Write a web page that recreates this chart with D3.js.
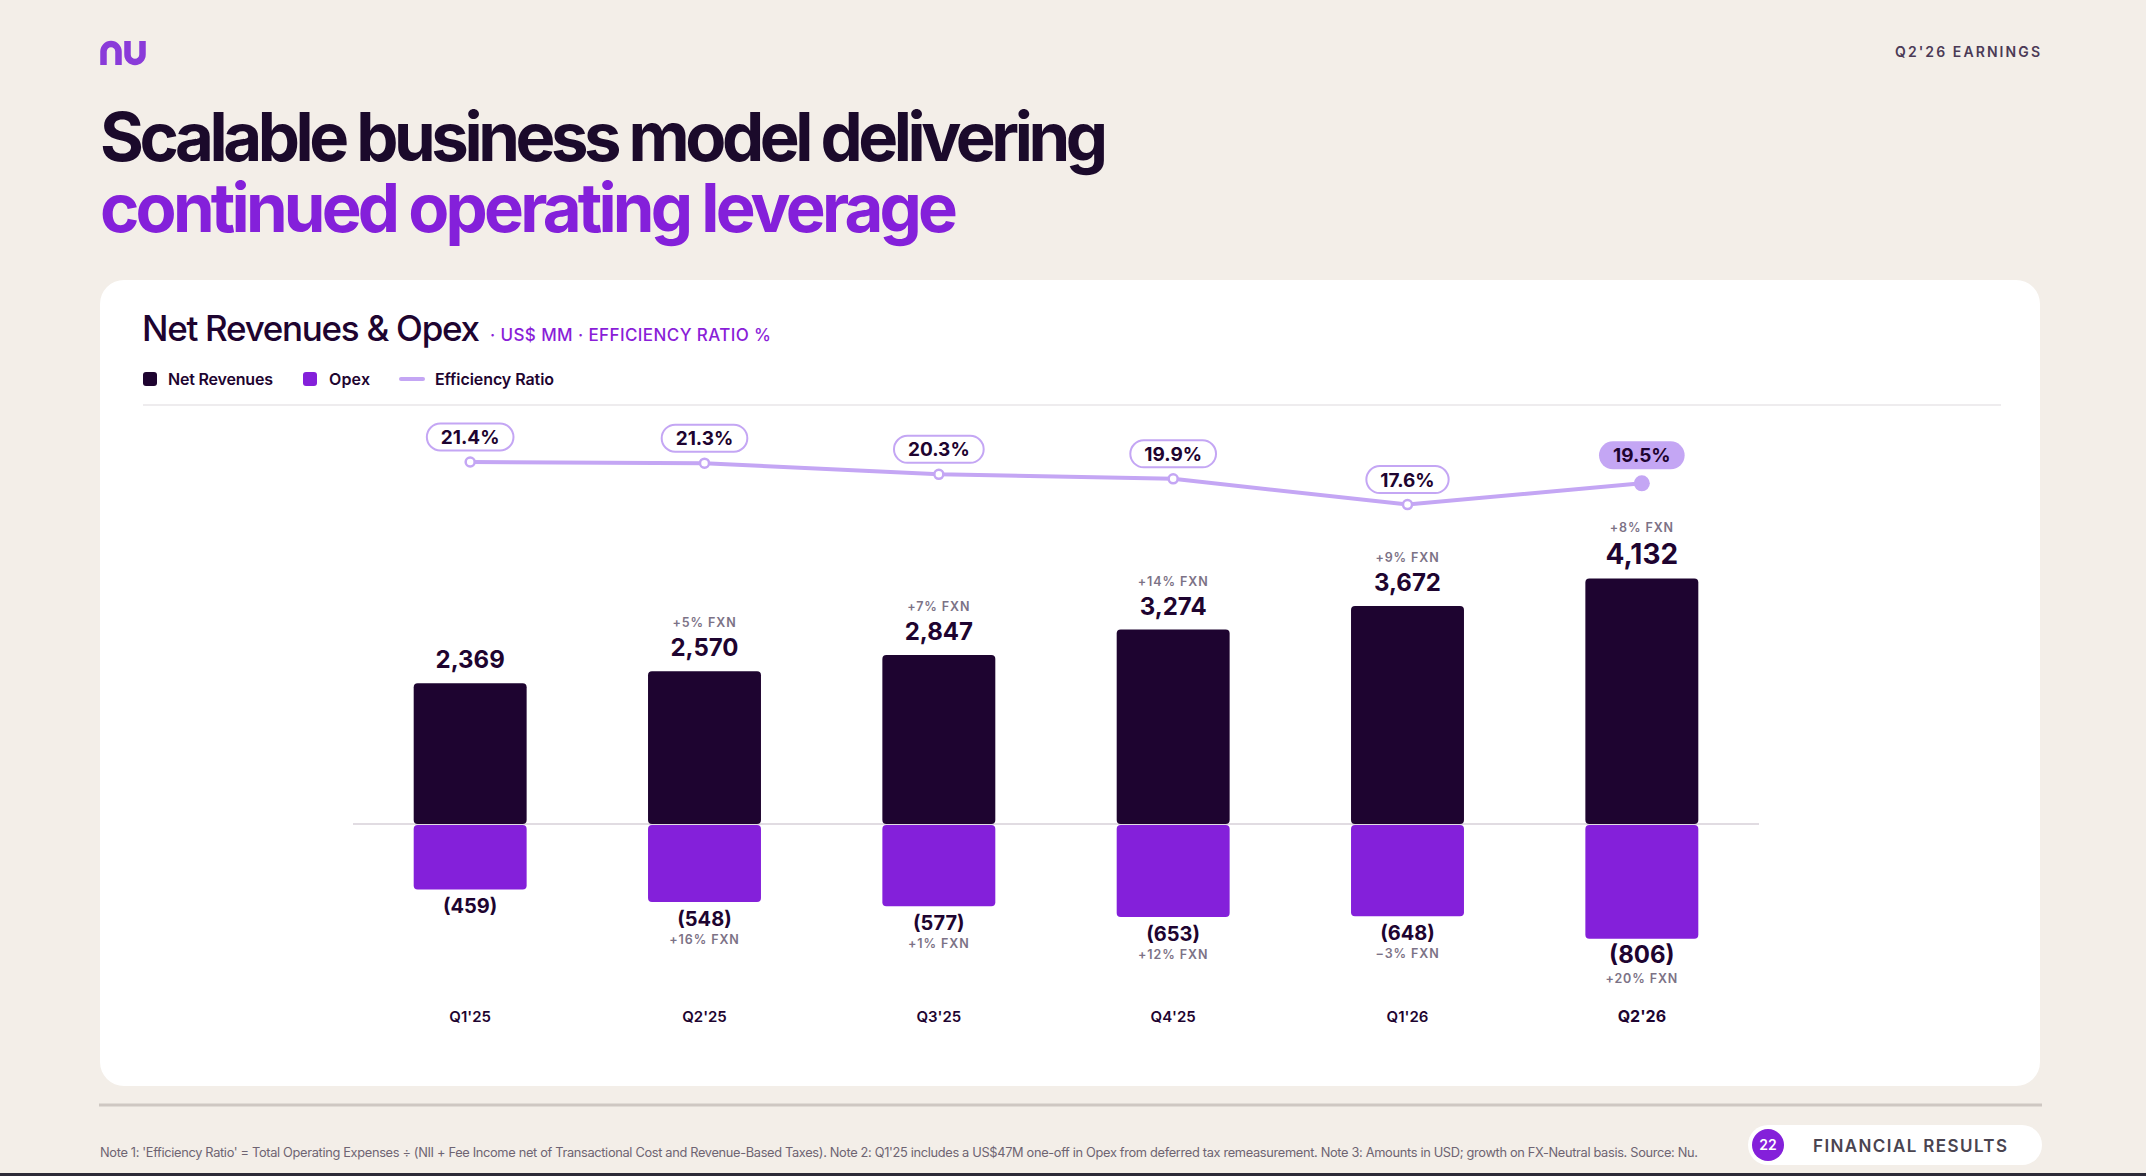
<!DOCTYPE html>
<html>
<head>
<meta charset="utf-8">
<script src="https://cdn.jsdelivr.net/npm/d3@7"></script>
<style>
	html, body { margin: 0; padding: 0; background: #f3eee8; overflow: hidden; }
	#slide { position: relative; width: 2146px; height: 1176px; }
	svg { display: block; font-family: Inter, "Noto Sans", sans-serif; }
	.headline { position: absolute; left: 100px; top: 101px; white-space: pre;
		font-family: Inter, "Noto Sans", sans-serif; font-size: 67px; font-weight: 700; line-height: 71px; }
	.probe { position: absolute; visibility: hidden; white-space: pre;
		font-family: Inter, "Noto Sans", sans-serif; font-size: 67px; font-weight: 700; }
</style>
</head>
<body>
<div id="slide"></div>
<script>

// data
var quarters = ["Q1'25", "Q2'25", "Q3'25", "Q4'25", "Q1'26", "Q2'26"];
var netRevenues = [2369, 2570, 2847, 3274, 3672, 4132];
var opex = [459, 548, 577, 653, 648, 806];
var efficiencyRatio = [21.4, 21.3, 20.3, 19.9, 17.6, 19.5];
var revenueGrowth = [null, "+5% FXN", "+7% FXN", "+14% FXN", "+9% FXN", "+8% FXN"];
var opexGrowth = [null, "+16% FXN", "+1% FXN", "+12% FXN", "\u22123% FXN", "+20% FXN"];

var legendItems = ["Net Revenues", "Opex", "Efficiency Ratio"];
var headline = ["Scalable business model delivering", "continued operating leverage"];
var footNote = "Note 1: 'Efficiency Ratio' = Total Operating Expenses \u00f7 (NII + Fee Income net of Transactional Cost and Revenue-Based Taxes). Note 2: Q1'25 includes a US$47M one-off in Opex from deferred tax remeasurement. Note 3: Amounts in USD; growth on FX-Neutral basis. Source: Nu.";

var DARK = "#1e0430";
var PURPLE = "#8420da";
var LAVENDER = "#c4a6f4";
var GREY = "#7c7286";

Slide = function(){
	this.svg = null;
	this.init();
};

// stretch / squeeze tracking so a text run spans a given width
Slide.fit = function(sel, width){
	sel.attr("letter-spacing", 0);
	var node = sel.node();
	var n = node.textContent.length;
	var w0 = node.getComputedTextLength();
	sel.attr("letter-spacing", (width - w0) / (n - 1));
	return sel;
};

Slide.prototype.init = function(){
	this.svg = d3.select(Slide.div)
				.append("svg")
				.attr("width", Slide.width)
				.attr("height", Slide.height);

	this.svg.append("rect")
			.attr("width", Slide.width)
			.attr("height", Slide.height)
			.attr("fill", "#f3eee8");
};

Slide.prototype.drawHeader = function(){
	var svg = this.svg;
	var root = d3.select(Slide.div);

	// nu logo
	svg.append("path")
		.attr("d", "M103.5,65 V51.5 A7.5,7.5 0 0 1 118.5,51.5 V65 M127.5,41 V54.5 A7.5,7.5 0 0 0 142.5,54.5 V41")
		.attr("fill", "none")
		.attr("stroke", "#8a3bd9")
		.attr("stroke-width", 6.5);

	Slide.fit(svg.append("text")
		.attr("x", 1895)
		.attr("y", 56.5)
		.attr("font-size", 14)
		.attr("font-weight", 600)
		.attr("fill", "#4b3a56")
		.text("Q2'26 EARNINGS"), 145);

	// headline: one html block, 71px leading (baselines ~161 / 232),
	// first line dark via ::first-line, each line tracked to its width
	var widths = [1008, 858];
	var spacing = headline.map(function(t, i){
		var p = root.append("span").attr("class", "probe").text(t);
		var w0 = p.node().getBoundingClientRect().width;
		p.remove();
		return (widths[i] - w0) / (t.length - 1);
	});

	d3.select("head").append("style")
		.text(".headline { color: " + PURPLE + "; letter-spacing: " + spacing[1] + "px; }" +
			  ".headline::first-line { color: #1b0a2b; letter-spacing: " + spacing[0] + "px; }");

	root.append("div")
		.attr("class", "headline")
		.text(headline.join("\n"));
};

Slide.prototype.drawCard = function(){
	var svg = this.svg;

	svg.append("rect")
		.attr("x", 100)
		.attr("y", 280)
		.attr("width", 1940)
		.attr("height", 806)
		.attr("rx", 24)
		.attr("fill", "#ffffff");

	Slide.fit(svg.append("text")
		.attr("x", 142)
		.attr("y", 341)
		.attr("font-size", 35)
		.attr("font-weight", 500)
		.attr("fill", DARK)
		.text("Net Revenues & Opex"), 338);

	Slide.fit(svg.append("text")
		.attr("x", 490)
		.attr("y", 341)
		.attr("font-size", 17)
		.attr("font-weight", 500)
		.attr("fill", "#8a1ed8")
		.text("\u00b7 US$ MM \u00b7 EFFICIENCY RATIO %"), 281);

	// legend
	var lg = svg.append("g").attr("font-size", 16).attr("font-weight", 600).attr("fill", DARK);
	lg.append("rect").attr("x", 143).attr("y", 372).attr("width", 14).attr("height", 14).attr("rx", 3).attr("fill", DARK);
	Slide.fit(lg.append("text").attr("x", 168).attr("y", 385).text(legendItems[0]), 105);
	lg.append("rect").attr("x", 303).attr("y", 372).attr("width", 14).attr("height", 14).attr("rx", 3).attr("fill", PURPLE);
	Slide.fit(lg.append("text").attr("x", 329).attr("y", 385).text(legendItems[1]), 41);
	lg.append("line").attr("x1", 401).attr("x2", 423).attr("y1", 379).attr("y2", 379)
		.attr("stroke", LAVENDER).attr("stroke-width", 4).attr("stroke-linecap", "round");
	Slide.fit(lg.append("text").attr("x", 435).attr("y", 385).text(legendItems[2]), 119);

	svg.append("line")
		.attr("x1", 143)
		.attr("x2", 2001)
		.attr("y1", 405)
		.attr("y2", 405)
		.attr("stroke", "#eeecee")
		.attr("stroke-width", 2);
};

Slide.prototype.drawChart = function(){
	var svg = this.svg;
	var last = quarters.length - 1;

	var x = d3.scalePoint()
			.domain(quarters)
			.range([353, 1759])
			.padding(0.5);
	var barW = x.step() * 0.482;

	var yRev = d3.scaleLinear().domain([0, 4500]).range([824, 824 - 4500 * 0.0594]);
	var yOpex = d3.scaleLinear().domain([0, 900]).range([824, 824 + 900 * 0.1425]);
	var yEff = d3.scaleLinear().domain([17, 22]).range([511.3, 455.3]);

	var rows = quarters.map(function(q, i){
		return {q: q, i: i, rev: netRevenues[i], opex: opex[i], eff: efficiencyRatio[i],
				revG: revenueGrowth[i], opexG: opexGrowth[i], hi: i === last};
	});

	// zero line
	svg.append("line")
		.attr("x1", x.range()[0])
		.attr("x2", x.range()[1])
		.attr("y1", yRev(0))
		.attr("y2", yRev(0))
		.attr("stroke", "#e1dce2")
		.attr("stroke-width", 2);

	var bars = svg.append("g");

	bars.selectAll(".rev")
		.data(rows)
		.enter()
		.append("rect")
		.attr("class", "rev")
		.attr("x", function(d){ return x(d.q) - barW / 2; })
		.attr("y", function(d){ return yRev(d.rev); })
		.attr("width", barW)
		.attr("height", function(d){ return yRev(0) - yRev(d.rev); })
		.attr("rx", 4)
		.attr("fill", DARK);

	bars.selectAll(".opex")
		.data(rows)
		.enter()
		.append("rect")
		.attr("class", "opex")
		.attr("x", function(d){ return x(d.q) - barW / 2; })
		.attr("y", yOpex(0) + 1)
		.attr("width", barW)
		.attr("height", function(d){ return yOpex(d.opex) - yOpex(0) - 1; })
		.attr("rx", 4)
		.attr("fill", PURPLE);

	var labels = svg.append("g").attr("text-anchor", "middle");

	labels.selectAll(".revLabel")
		.data(rows)
		.enter()
		.append("text")
		.attr("x", function(d){ return x(d.q); })
		.attr("y", function(d){ return yRev(d.rev) - 15; })
		.attr("font-size", function(d){ return d.hi ? 28 : 24; })
		.attr("font-weight", 700)
		.attr("fill", DARK)
		.text(function(d){ return d3.format(",")(d.rev); });

	labels.selectAll(".revGrowth")
		.data(rows.filter(function(d){ return d.revG; }))
		.enter()
		.append("text")
		.attr("x", function(d){ return x(d.q); })
		.attr("y", function(d){ return yRev(d.rev) - 15 - (d.hi ? 32 : 29); })
		.attr("font-size", 12.5)
		.attr("font-weight", 600)
		.attr("letter-spacing", 0.9)
		.attr("fill", GREY)
		.text(function(d){ return d.revG; });

	labels.selectAll(".opexLabel")
		.data(rows)
		.enter()
		.append("text")
		.attr("x", function(d){ return x(d.q); })
		.attr("y", function(d){ return yOpex(d.opex) + 24; })
		.attr("font-size", function(d){ return d.hi ? 24 : 20; })
		.attr("font-weight", 700)
		.attr("fill", DARK)
		.text(function(d){ return "(" + d.opex + ")"; });

	labels.selectAll(".opexGrowth")
		.data(rows.filter(function(d){ return d.opexG; }))
		.enter()
		.append("text")
		.attr("x", function(d){ return x(d.q); })
		.attr("y", function(d){ return yOpex(d.opex) + 24 + (d.hi ? 20 : 18); })
		.attr("font-size", 12.5)
		.attr("font-weight", 600)
		.attr("letter-spacing", 0.9)
		.attr("fill", GREY)
		.text(function(d){ return d.opexG; });

	labels.selectAll(".xLabel")
		.data(rows)
		.enter()
		.append("text")
		.attr("x", function(d){ return x(d.q); })
		.attr("y", 1022)
		.attr("font-size", function(d){ return d.hi ? 16 : 15; })
		.attr("font-weight", function(d){ return d.hi ? 700 : 600; })
		.attr("fill", DARK)
		.text(function(d){ return d.q; });

	// efficiency ratio line
	var line = d3.line()
			.x(function(d){ return x(d.q); })
			.y(function(d){ return yEff(d.eff); });

	svg.append("path")
		.datum(rows)
		.attr("d", line)
		.attr("fill", "none")
		.attr("stroke", LAVENDER)
		.attr("stroke-width", 4);

	svg.selectAll(".marker")
		.data(rows)
		.enter()
		.append("circle")
		.attr("cx", function(d){ return x(d.q); })
		.attr("cy", function(d){ return yEff(d.eff); })
		.attr("r", function(d){ return d.hi ? 8 : 4.5; })
		.attr("fill", function(d){ return d.hi ? LAVENDER : "#ffffff"; })
		.attr("stroke", LAVENDER)
		.attr("stroke-width", function(d){ return d.hi ? 0 : 2.5; });

	var pills = svg.selectAll(".pill")
		.data(rows)
		.enter()
		.append("g")
		.attr("transform", function(d){ return "translate(" + x(d.q) + "," + (yEff(d.eff) - (d.hi ? 28 : 25)) + ")"; });

	pills.append("text")
		.attr("text-anchor", "middle")
		.attr("y", 7)
		.attr("font-size", 19)
		.attr("font-weight", 700)
		.attr("fill", DARK)
		.text(function(d){ return d.eff.toFixed(1) + "%"; });

	pills.each(function(d){
		var g = d3.select(this);
		var w = g.select("text").node().getComputedTextLength() + 28;
		g.insert("rect", "text")
			.attr("x", -w / 2)
			.attr("y", d.hi ? -14 : -13.5)
			.attr("width", w)
			.attr("height", d.hi ? 28 : 27)
			.attr("rx", d.hi ? 14 : 13.5)
			.attr("fill", d.hi ? LAVENDER : "#ffffff")
			.attr("stroke", LAVENDER)
			.attr("stroke-width", d.hi ? 0 : 2);
	});
};

Slide.prototype.drawFooter = function(){
	var svg = this.svg;

	svg.append("line")
		.attr("x1", 99)
		.attr("x2", 2042)
		.attr("y1", 1105)
		.attr("y2", 1105)
		.attr("stroke", "#cec7c2")
		.attr("stroke-width", 3);

	Slide.fit(svg.append("text")
		.attr("x", 100)
		.attr("y", 1157)
		.attr("font-size", 12.8)
		.attr("fill", "#6e6472")
		.text(footNote), 1598);

	svg.append("rect")
		.attr("x", 1748)
		.attr("y", 1125)
		.attr("width", 294)
		.attr("height", 40)
		.attr("rx", 20)
		.attr("fill", "#ffffff");

	svg.append("circle")
		.attr("cx", 1768)
		.attr("cy", 1145)
		.attr("r", 16)
		.attr("fill", PURPLE);

	svg.append("text")
		.attr("x", 1768)
		.attr("y", 1150)
		.attr("text-anchor", "middle")
		.attr("font-size", 14)
		.attr("font-weight", 600)
		.attr("fill", "#ffffff")
		.text("22");

	Slide.fit(svg.append("text")
		.attr("x", 1813)
		.attr("y", 1152)
		.attr("font-size", 17)
		.attr("font-weight", 600)
		.attr("fill", "#4a4450")
		.text("FINANCIAL RESULTS"), 194);

	svg.append("rect")
		.attr("x", 0)
		.attr("y", 1173)
		.attr("width", Slide.width)
		.attr("height", 3)
		.attr("fill", "#2c2a38");
};

Slide.prototype.render = function(){
	this.drawHeader();
	this.drawCard();
	this.drawChart();
	this.drawFooter();
	console.log("render done");
};

Slide.width = 2146;
Slide.height = 1176;
Slide.div = "#slide";

new Slide().render();

</script>
</body>
</html>
